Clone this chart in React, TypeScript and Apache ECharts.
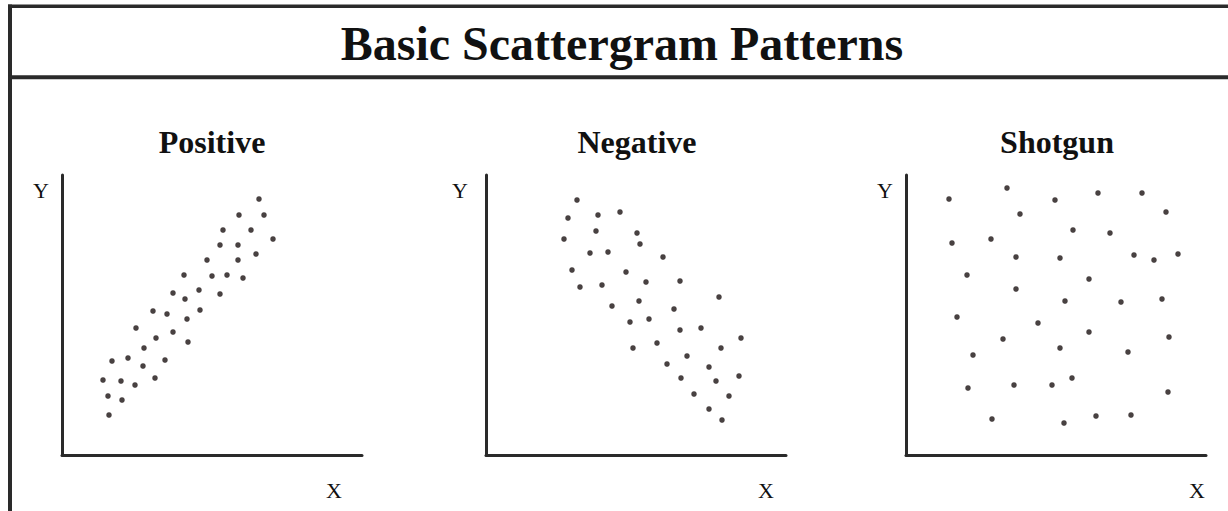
import React, { useEffect, useRef } from "react";
import * as echarts from "echarts";

const TITLE = "Basic Scattergram Patterns";
const panelTitles = ["Positive", "Negative", "Shotgun"];
const axisLabelX = "X";
const axisLabelY = "Y";

const positiveData: [number, number][] = [
  [197, 256], [177, 240], [202, 240], [161, 225], [189, 225], [211, 216],
  [158, 210], [176, 210], [194, 201], [145, 195], [176, 195], [122, 180],
  [150, 179], [165, 180], [181, 177], [111, 162], [137, 165], [123, 156],
  [158, 161], [91, 144], [105, 141], [125, 136], [138, 145], [74, 127],
  [94, 117], [111, 123], [126, 113], [82, 107], [50, 94], [66, 97],
  [103, 95], [81, 89], [41, 75], [59, 74], [73, 70], [93, 77],
  [46, 59], [60, 55], [47, 40],
];

const negativeData: [number, number][] = [
  [91, 255], [82, 237], [112, 240], [134, 243], [78, 216], [110, 224],
  [151, 222], [154, 211], [104, 202], [122, 203], [177, 198], [86, 185],
  [140, 183], [194, 174], [94, 168], [116, 170], [160, 173], [233, 158],
  [126, 149], [153, 154], [188, 146], [144, 133], [163, 136], [194, 125],
  [215, 127], [255, 117], [147, 107], [171, 112], [235, 107], [201, 99],
  [181, 91], [223, 88], [195, 77], [230, 74], [253, 79], [208, 61],
  [243, 59], [223, 46], [236, 35],
];

const shotgunData: [number, number][] = [
  [43, 256], [101, 267], [149, 255], [192, 262], [236, 262], [114, 241],
  [260, 243], [167, 225], [204, 222], [46, 212], [85, 216], [110, 198],
  [154, 197], [228, 200], [248, 195], [272, 201], [61, 180], [183, 176],
  [110, 166], [159, 154], [215, 153], [256, 156], [51, 138], [132, 132],
  [183, 123], [97, 116], [154, 107], [263, 118], [67, 100], [222, 103],
  [166, 77], [62, 67], [108, 70], [146, 70], [262, 63], [86, 36],
  [158, 32], [190, 39], [225, 40],
];

const X_MIN = 0;
const X_MAX = 300;
const Y_MIN = 0;
const Y_MAX = 280;

export default function App() {
  const ref = useRef<HTMLDivElement>(null);

  useEffect(() => {
    if (!ref.current) return;
    const chart = echarts.init(ref.current, undefined, { renderer: "svg" });

    const gridLefts = [62, 486, 906];
    const subtitleCenters = [212, 637, 1057];
    const yLabelCenters = [41, 460, 885];
    const xLabelCenters = [334, 766, 1197];
    const datasets = [positiveData, negativeData, shotgunData];
    const lineColor = "#2a2a2a";
    const serif = "'Liberation Serif', 'Times New Roman', serif";

    const grids = gridLefts.map((l) => ({
      left: l,
      top: 175,
      width: 300,
      height: 280,
      containLabel: false,
    }));

    const axisCommon = {
      axisLine: { show: true, lineStyle: { color: lineColor, width: 3 } },
      axisTick: { show: false },
      axisLabel: { show: false },
      splitLine: { show: false },
    };

    const xAxes = gridLefts.map((_, i) => ({
      type: "value",
      gridIndex: i,
      min: X_MIN,
      max: X_MAX,
      ...axisCommon,
    }));
    const yAxes = gridLefts.map((_, i) => ({
      type: "value",
      gridIndex: i,
      min: Y_MIN,
      max: Y_MAX,
      ...axisCommon,
    }));

    const series = datasets.map((d, i) => ({
      type: "scatter",
      name: panelTitles[i],
      xAxisIndex: i,
      yAxisIndex: i,
      data: d,
      symbol: "circle",
      symbolSize: 5.5,
      itemStyle: { color: "#1a1212" },
      silent: true,
    }));

    const graphics: any[] = [
      { type: "line", shape: { x1: 8, y1: 6.3, x2: 1228, y2: 6.3 }, style: { stroke: lineColor, lineWidth: 3.4 } },
      { type: "line", shape: { x1: 10, y1: 4.6, x2: 10, y2: 511 }, style: { stroke: lineColor, lineWidth: 4 } },
      { type: "line", shape: { x1: 8, y1: 77.3, x2: 1228, y2: 77.3 }, style: { stroke: lineColor, lineWidth: 4 } },
      {
        type: "text",
        x: 622,
        y: 43,
        style: {
          text: TITLE,
          font: `bold 48px ${serif}`,
          fill: "#111",
          align: "center",
          verticalAlign: "middle",
        },
      },
    ];

    subtitleCenters.forEach((cx, i) => {
      graphics.push({
        type: "text",
        x: cx,
        y: 142,
        style: {
          text: panelTitles[i],
          font: `bold 32px ${serif}`,
          fill: "#111",
          align: "center",
          verticalAlign: "middle",
        },
      });
      graphics.push({
        type: "text",
        x: yLabelCenters[i],
        y: 190,
        style: {
          text: axisLabelY,
          font: `22px ${serif}`,
          fill: "#111",
          align: "center",
          verticalAlign: "middle",
        },
      });
      graphics.push({
        type: "text",
        x: xLabelCenters[i],
        y: 490,
        style: {
          text: axisLabelX,
          font: `22px ${serif}`,
          fill: "#111",
          align: "center",
          verticalAlign: "middle",
        },
      });
    });

    chart.setOption({
      animation: false,
      backgroundColor: "#ffffff",
      grid: grids,
      xAxis: xAxes,
      yAxis: yAxes,
      series,
      graphic: graphics,
    });

    return () => chart.dispose();
  }, []);

  return (
    <div
      ref={ref}
      style={{ position: "absolute", left: 0, top: 0, width: 1228, height: 511 }}
    />
  );
}
